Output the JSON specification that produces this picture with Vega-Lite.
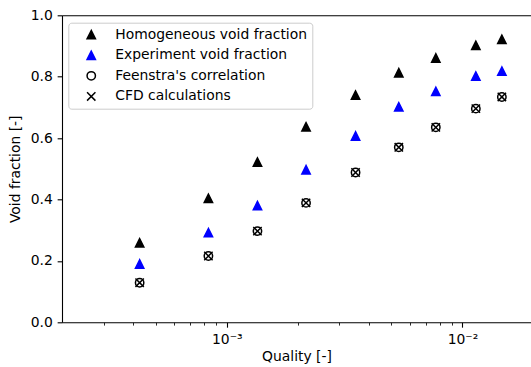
{
  "$schema": "https://vega.github.io/schema/vega-lite/v6.json",
  "width": 469,
  "height": 307,
  "autosize": {"type": "none"},
  "padding": {"left": 62, "top": 15.3, "right": 0, "bottom": 44.7},
  "background": "white",
  "config": {
    "view": {"stroke": null},
    "font": "DejaVu Sans",
    "axis": {
      "labelFont": "DejaVu Sans",
      "titleFont": "DejaVu Sans",
      "labelFontSize": 13.9,
      "titleFontSize": 13.9,
      "labelColor": "black",
      "titleColor": "black",
      "titleFontWeight": "normal",
      "domainColor": "black",
      "domainWidth": 1.1,
      "tickColor": "black",
      "tickWidth": 1.1,
      "tickSize": 4.86,
      "labelPadding": 4.86,
      "grid": false
    },
    "legend": {
      "labelFont": "DejaVu Sans",
      "labelFontSize": 13.9,
      "labelColor": "black",
      "labelLimit": 400,
      "symbolStrokeWidth": 1.5
    }
  },
  "data": {
    "values": [
      {"quality": 0.000427, "vf": 0.259, "series": "Homogeneous void fraction"},
      {"quality": 0.000836, "vf": 0.404, "series": "Homogeneous void fraction"},
      {"quality": 0.00135, "vf": 0.522, "series": "Homogeneous void fraction"},
      {"quality": 0.00217, "vf": 0.637, "series": "Homogeneous void fraction"},
      {"quality": 0.00352, "vf": 0.740, "series": "Homogeneous void fraction"},
      {"quality": 0.00537, "vf": 0.813, "series": "Homogeneous void fraction"},
      {"quality": 0.00771, "vf": 0.861, "series": "Homogeneous void fraction"},
      {"quality": 0.0114, "vf": 0.902, "series": "Homogeneous void fraction"},
      {"quality": 0.0147, "vf": 0.922, "series": "Homogeneous void fraction"},
      {"quality": 0.000427, "vf": 0.190, "series": "Experiment void fraction"},
      {"quality": 0.000836, "vf": 0.292, "series": "Experiment void fraction"},
      {"quality": 0.00135, "vf": 0.380, "series": "Experiment void fraction"},
      {"quality": 0.00217, "vf": 0.497, "series": "Experiment void fraction"},
      {"quality": 0.00352, "vf": 0.607, "series": "Experiment void fraction"},
      {"quality": 0.00537, "vf": 0.702, "series": "Experiment void fraction"},
      {"quality": 0.00771, "vf": 0.752, "series": "Experiment void fraction"},
      {"quality": 0.0114, "vf": 0.802, "series": "Experiment void fraction"},
      {"quality": 0.0147, "vf": 0.818, "series": "Experiment void fraction"},
      {"quality": 0.000427, "vf": 0.129, "series": "Feenstra's correlation"},
      {"quality": 0.000836, "vf": 0.216, "series": "Feenstra's correlation"},
      {"quality": 0.00135, "vf": 0.297, "series": "Feenstra's correlation"},
      {"quality": 0.00217, "vf": 0.389, "series": "Feenstra's correlation"},
      {"quality": 0.00352, "vf": 0.488, "series": "Feenstra's correlation"},
      {"quality": 0.00537, "vf": 0.570, "series": "Feenstra's correlation"},
      {"quality": 0.00771, "vf": 0.635, "series": "Feenstra's correlation"},
      {"quality": 0.0114, "vf": 0.696, "series": "Feenstra's correlation"},
      {"quality": 0.0147, "vf": 0.734, "series": "Feenstra's correlation"},
      {"quality": 0.000427, "vf": 0.129, "series": "CFD calculations"},
      {"quality": 0.000836, "vf": 0.216, "series": "CFD calculations"},
      {"quality": 0.00135, "vf": 0.297, "series": "CFD calculations"},
      {"quality": 0.00217, "vf": 0.389, "series": "CFD calculations"},
      {"quality": 0.00352, "vf": 0.488, "series": "CFD calculations"},
      {"quality": 0.00537, "vf": 0.570, "series": "CFD calculations"},
      {"quality": 0.00771, "vf": 0.635, "series": "CFD calculations"},
      {"quality": 0.0114, "vf": 0.696, "series": "CFD calculations"},
      {"quality": 0.0147, "vf": 0.734, "series": "CFD calculations"}
    ]
  },
  "layer": [
    {
      "mark": {"type": "point", "opacity": 1, "strokeWidth": 1.5},
      "encoding": {
        "x": {
          "field": "quality", "type": "quantitative",
          "scale": {"type": "log", "domain": [0.0002, 0.01954], "nice": false},
          "axis": {
            "orient": "bottom",
            "values": [0.001, 0.01],
            "labelExpr": "datum.value < 0.005 ? '10⁻³' : '10⁻²'",
            "title": "Quality [-]",
            "titlePadding": 4
          }
        },
        "y": {
          "field": "vf", "type": "quantitative",
          "scale": {"domain": [0, 1], "nice": false, "zero": false},
          "axis": {
            "orient": "left",
            "values": [0, 0.2, 0.4, 0.6, 0.8, 1.0],
            "format": ".1f",
            "title": "Void fraction [-]",
            "titlePadding": 8
          }
        },
        "shape": {
          "field": "series", "type": "nominal",
          "scale": {
            "domain": ["Homogeneous void fraction", "Experiment void fraction", "Feenstra's correlation", "CFD calculations"],
            "range": ["M0,-1L-1,1L1,1Z", "M0,-1L-1,1L1,1Z", "circle", "M-1,-1L1,1M-1,1L1,-1"]
          },
          "legend": {
            "title": null,
            "orient": "none",
            "legendX": 6.3,
            "legendY": 7.4,
            "padding": 5,
            "symbolOffset": 11,
            "labelOffset": 17,
            "rowPadding": 4.6,
            "fillColor": "rgba(255,255,255,0.8)",
            "strokeColor": "#cccccc",
            "cornerRadius": 3
          }
        },
        "fill": {
          "field": "series", "type": "nominal",
          "scale": {
            "domain": ["Homogeneous void fraction", "Experiment void fraction", "Feenstra's correlation", "CFD calculations"],
            "range": ["black", "#0000ff", "transparent", "transparent"]
          }
        },
        "stroke": {
          "field": "series", "type": "nominal",
          "scale": {
            "domain": ["Homogeneous void fraction", "Experiment void fraction", "Feenstra's correlation", "CFD calculations"],
            "range": ["black", "#0000ff", "black", "black"]
          }
        },
        "size": {
          "field": "series", "type": "nominal",
          "scale": {
            "domain": ["Homogeneous void fraction", "Experiment void fraction", "Feenstra's correlation", "CFD calculations"],
            "range": [70, 70, 72, 36]
          }
        }
      }
    },
    {
      "mark": {"type": "point", "opacity": 0},
      "encoding": {
        "x": {
          "field": "quality", "type": "quantitative",
          "axis": {
            "orient": "bottom",
            "values": [0.0003, 0.0004, 0.0005, 0.0006, 0.0007, 0.0008, 0.0009, 0.002, 0.003, 0.004, 0.005, 0.006, 0.007, 0.008, 0.009],
            "labels": false,
            "domain": false,
            "title": null,
            "tickSize": 2.78,
            "tickWidth": 0.83
          }
        },
        "y": {"field": "vf", "type": "quantitative", "axis": null}
      }
    },
    {
      "mark": {"type": "point", "opacity": 0},
      "encoding": {
        "x": {
          "field": "quality", "type": "quantitative",
          "axis": {
            "orient": "top",
            "ticks": false,
            "labels": false,
            "domain": true,
            "title": null
          }
        },
        "y": {"field": "vf", "type": "quantitative", "axis": null}
      }
    }
  ],
  "resolve": {"axis": {"x": "independent", "y": "independent"}}
}
